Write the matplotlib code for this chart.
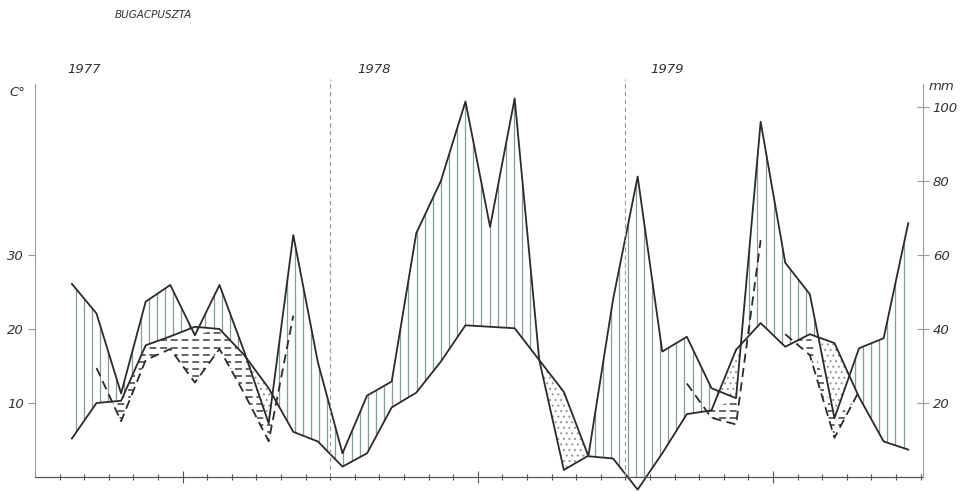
import numpy as np
import matplotlib.pyplot as plt

plt.rcParams['font.family'] = ['DejaVu Sans']
plt.rcParams['font.style'] = 'italic'
plt.rcParams['hatch.linewidth'] = 0.8

# Bugacpuszta, monthly values Feb 1977 - Dec 1979
temp_c = [5.2, 10.0, 10.3, 17.8, 19.0, 20.3, 20.0, 16.5, 12.0, 6.1, 4.8,
          1.4, 3.2, 9.4, 11.4, 15.6, 20.5, 20.3, 20.1, 15.8, 11.5, 2.8, 2.5,
          -1.7, 3.2, 8.5, 9.0, 17.2, 20.8, 17.6, 19.3, 18.1, 10.8, 4.8, 3.7]
rain_mm = [52.2, 44.2, 22.6, 47.4, 51.9, 38.3, 51.9, 34.0, 14.5, 65.4, 31.0,
           6.4, 22.0, 25.8, 65.9, 80.0, 101.5, 67.6, 102.3, 31.6, 1.9, 5.8, 48.0,
           81.2, 33.9, 37.9, 24.0, 21.3, 96.0, 57.9, 49.4, 15.9, 34.8, 37.5, 68.6]
years = ['1977', '1978', '1979']
year_breaks = [10.5, 22.5]          # between Dec and Jan
mid_years = [4.5, 16.5, 28.5]
# month stretches where the 1:3 rain curve is drawn in the original
dry_runs = [(1, 9), (25, 28), (29, 32)]
temp_ticks = [10, 20, 30]
rain_ticks = [20, 40, 60, 80, 100]

line_col = '#2b2b2b'
hatch_col = '#8a9d93'
axis_col = '#9a9a9a'

x = np.arange(len(temp_c))
t2 = np.array(temp_c) * 2          # 10 C = 20 mm
p = np.array(rain_mm)
p3 = p * 2 / 3                     # 10 C = 30 mm

fig = plt.figure(figsize=(9.66, 4.91), dpi=100)
ax = fig.add_axes([35 / 966, 14 / 491, 888 / 966, 393 / 491])
ax.set_xlim(-1.5, 34.6)
ax.set_ylim(0, 393 / 3.7)

# humid months: thin vertical lines clipped to the area between the curves
wet = ax.fill_between(x, t2, p, where=p >= t2, interpolate=True,
                      facecolor='none', linewidth=0)
for path in wet.get_paths():
    cols = ax.vlines(np.arange(-1.5, 35, 0.33), -5, 110, colors=hatch_col,
                     linewidth=0.9)
    cols.set_clip_path(path, ax.transData)

# arid months: dots
ax.fill_between(x, p, t2, where=p < t2, interpolate=True, facecolor='none',
                edgecolor='#9a9a9a', hatch='...', linewidth=0)

# relatively dry periods: dashed rows between the 1:3 curve and the lower line
for a, b in dry_runs:
    xs = x[a:b + 1]
    low = p3[a:b + 1]
    up = np.minimum(t2, p)[a:b + 1]
    poly = ax.fill_between(xs, low, up, where=low < up, interpolate=True,
                           facecolor='none', linewidth=0)
    for path in poly.get_paths():
        rows = ax.hlines(np.arange(0.8, 110, 1.9), xs[0], xs[-1], colors='#3c3c3c',
                         linewidths=1.1, linestyles=(0, (4.5, 2.5)))
        rows.set_clip_path(path, ax.transData)
    ax.plot(xs, low, color=line_col, lw=1.3, ls=(0, (5, 3)))

ax.plot(x, p, color=line_col, lw=1.3)
ax.plot(x, t2, color=line_col, lw=1.3, clip_on=False)

ax.vlines(year_breaks, 0, 107.5, colors=axis_col, linestyles=(0, (4, 3)),
          linewidth=0.8, clip_on=False)

# axes
for side in ['top', 'right']:
    ax.spines[side].set_visible(False)
ax.spines['left'].set_color(axis_col)
ax.spines['left'].set_linewidth(0.8)
ax.spines['bottom'].set_color('#555555')
ax.spines['bottom'].set_linewidth(0.9)

ax.set_yticks([v * 2 for v in temp_ticks])
ax.set_yticklabels([str(v) for v in temp_ticks])
ax.tick_params(axis='y', direction='out', length=5, width=0.8, color=axis_col,
               labelsize=9.5, labelcolor='#333333', pad=3)

ax.set_xticks(mid_years)
ax.set_xticklabels([])
ax.set_xticks(np.arange(-0.5, 35, 1), minor=True)
ax.tick_params(axis='x', which='major', direction='inout', length=8, width=0.8,
               color='#555555')
ax.tick_params(axis='x', which='minor', direction='inout', length=4, width=0.8,
               color='#555555')

ax2 = ax.twinx()
ax2.set_ylim(ax.get_ylim())
for side in ['top', 'left', 'bottom']:
    ax2.spines[side].set_visible(False)
ax2.spines['right'].set_color(axis_col)
ax2.spines['right'].set_linewidth(0.8)
ax2.set_yticks(rain_ticks)
ax2.set_yticklabels([str(v) for v in rain_ticks])
ax2.tick_params(axis='y', direction='inout', length=8, width=0.8, color=axis_col,
                labelsize=9.5, labelcolor='#333333', pad=3)

# year labels
year_x = [-0.2, 11.6, 23.5]
for yx, yl in zip(year_x, years):
    ax.text(yx, 110, yl, fontsize=9.5, color='#333333', va='center', clip_on=False)

fig.text(115 / 966, 1 - 15 / 491, 'BUGACPUSZTA', fontsize=7.5, color='#333333',
         va='center')
fig.text(9 / 966, 1 - 92 / 491, 'C°', fontsize=9.5, color='#333333', va='center')
fig.text(929 / 966, 1 - 86 / 491, 'mm', fontsize=9.5, color='#333333', va='center')

fig.savefig('out.png', dpi=100, facecolor='white')
